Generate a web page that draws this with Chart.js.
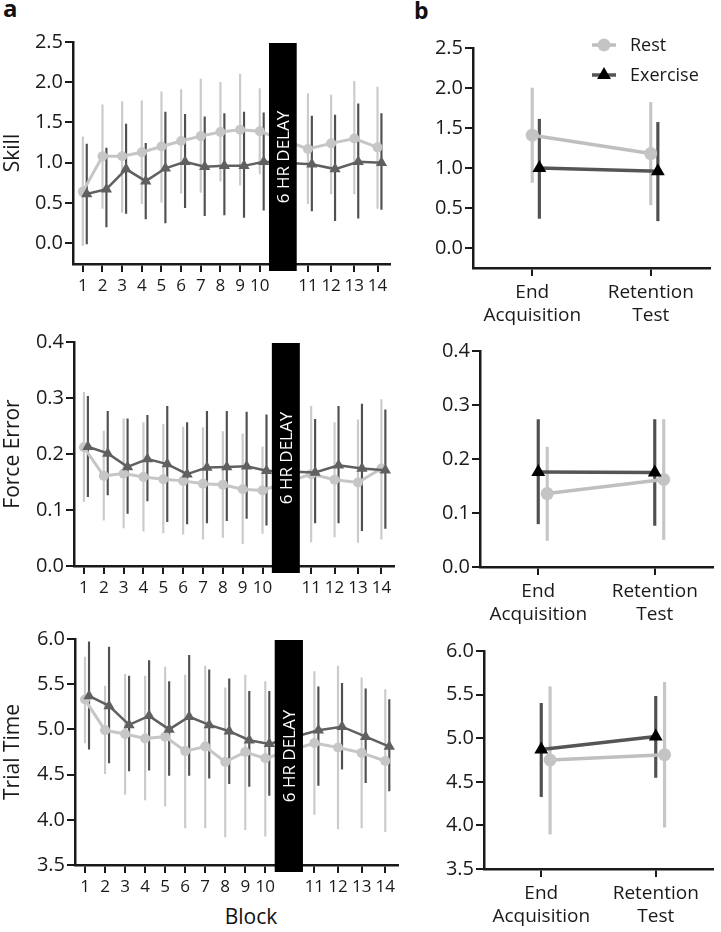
<!DOCTYPE html>
<html>
<head>
<meta charset="utf-8">
<script src="https://cdn.jsdelivr.net/npm/chart.js@4.4.0/dist/chart.umd.min.js"></script>
<style>
  body { margin: 0; background: #fff; width: 721px; height: 932px; position: relative; overflow: hidden; font-family: "Open Sans", sans-serif; }
  canvas { position: absolute; }
  .lbl { position: absolute; color: #111; line-height: 1; white-space: nowrap; }
</style>
</head>
<body>
<div class="lbl" style="left:3px;top:-4px;font-size:24px;font-weight:bold">a</div>
<div class="lbl" style="left:414px;top:-1px;font-size:23px;font-weight:bold">b</div>
<div class="lbl" style="left:201px;top:906px;width:100px;text-align:center;font-size:21px">Block</div>

<canvas id="skillBlocks" width="396" height="320" style="left:0;top:0"></canvas>
<canvas id="forceBlocks" width="400" height="300" style="left:0;top:320px"></canvas>
<canvas id="timeBlocks" width="404" height="312" style="left:0;top:620px"></canvas>
<canvas id="skillPhase" width="321" height="340" style="left:400px;top:0"></canvas>
<canvas id="forcePhase" width="321" height="300" style="left:400px;top:330px"></canvas>
<canvas id="timePhase" width="321" height="302" style="left:400px;top:630px"></canvas>

<script>
// ---- data ----
const blocks = [1, 2, 3, 4, 5, 6, 7, 8, 9, 10, 11, 12, 13, 14];

const skillRest   = [0.64, 1.08, 1.08, 1.13, 1.20, 1.27, 1.33, 1.38, 1.41, 1.39, 1.17, 1.24, 1.30, 1.19];
const skillRestLo = [-0.03, 0.43, 0.38, 0.49, 0.51, 0.62, 0.63, 0.77, 0.72, 0.86, 0.49, 0.61, 0.61, 0.43];
const skillRestHi = [1.32, 1.72, 1.76, 1.77, 1.88, 1.91, 2.04, 2.00, 2.10, 1.92, 1.86, 1.84, 2.01, 1.94];
const skillEx     = [0.61, 0.67, 0.92, 0.77, 0.93, 1.01, 0.95, 0.96, 0.96, 1.01, 0.98, 0.92, 1.01, 1.00];
const skillExLo   = [-0.01, 0.20, 0.37, 0.30, 0.25, 0.44, 0.34, 0.35, 0.32, 0.41, 0.40, 0.28, 0.31, 0.42];
const skillExHi   = [1.23, 1.18, 1.48, 1.24, 1.63, 1.60, 1.57, 1.61, 1.63, 1.62, 1.58, 1.59, 1.73, 1.61];

const forceRest   = [0.212, 0.161, 0.165, 0.159, 0.155, 0.152, 0.147, 0.145, 0.137, 0.135, 0.164, 0.154, 0.149, 0.174];
const forceRestLo = [0.115, 0.082, 0.068, 0.062, 0.059, 0.057, 0.048, 0.051, 0.040, 0.058, 0.043, 0.052, 0.042, 0.048];
const forceRestHi = [0.310, 0.241, 0.263, 0.256, 0.253, 0.248, 0.247, 0.240, 0.236, 0.213, 0.285, 0.256, 0.261, 0.297];
const forceEx     = [0.213, 0.201, 0.177, 0.191, 0.182, 0.164, 0.176, 0.177, 0.178, 0.170, 0.167, 0.180, 0.174, 0.171];
const forceExLo   = [0.124, 0.127, 0.094, 0.116, 0.079, 0.075, 0.077, 0.081, 0.085, 0.073, 0.077, 0.077, 0.063, 0.067];
const forceExHi   = [0.303, 0.276, 0.263, 0.269, 0.285, 0.256, 0.276, 0.276, 0.275, 0.270, 0.262, 0.285, 0.289, 0.279];

const timeRest   = [5.33, 4.99, 4.95, 4.90, 4.92, 4.76, 4.81, 4.64, 4.75, 4.68, 4.85, 4.80, 4.74, 4.65];
const timeRestLo = [4.85, 4.51, 4.28, 4.22, 4.15, 3.91, 3.91, 3.81, 3.89, 3.82, 4.06, 3.90, 3.91, 3.87];
const timeRestHi = [5.80, 5.48, 5.61, 5.59, 5.69, 5.60, 5.70, 5.46, 5.60, 5.53, 5.64, 5.70, 5.57, 5.44];
const timeEx     = [5.37, 5.26, 5.05, 5.15, 5.00, 5.14, 5.05, 4.98, 4.88, 4.84, 4.99, 5.03, 4.92, 4.81];
const timeExLo   = [4.78, 4.63, 4.54, 4.55, 4.49, 4.49, 4.46, 4.40, 4.37, 4.27, 4.38, 4.56, 4.41, 4.32];
const timeExHi   = [5.97, 5.91, 5.59, 5.76, 5.53, 5.82, 5.66, 5.56, 5.42, 5.42, 5.47, 5.51, 5.45, 5.33];

const phaseLabels = [['End', 'Acquisition'], ['Retention', 'Test']];
const phasePos = [0, 1];

const skillPhaseRest   = [1.41, 1.18];
const skillPhaseRestLo = [0.82, 0.54];
const skillPhaseRestHi = [2.00, 1.82];
const skillPhaseEx     = [1.00, 0.96];
const skillPhaseExLo   = [0.37, 0.34];
const skillPhaseExHi   = [1.61, 1.57];

const forcePhaseRest   = [0.136, 0.162];
const forcePhaseRestLo = [0.049, 0.051];
const forcePhaseRestHi = [0.222, 0.273];
const forcePhaseEx     = [0.176, 0.175];
const forcePhaseExLo   = [0.080, 0.077];
const forcePhaseExHi   = [0.273, 0.273];

const timePhaseRest   = [4.75, 4.81];
const timePhaseRestLo = [3.90, 3.98];
const timePhaseRestHi = [5.59, 5.64];
const timePhaseEx     = [4.87, 5.02];
const timePhaseExLo   = [4.33, 4.55];
const timePhaseExHi   = [5.40, 5.48];

const skillTicks = [0, 0.5, 1, 1.5, 2, 2.5];
const forceTicks = [0, 0.1, 0.2, 0.3, 0.4];
const timeTicks  = [3.5, 4, 4.5, 5, 5.5, 6];

// blocks after the 6 hr delay sit on a slightly wider grid, after a gap
const POST_START = 12.45, POST_STEP = 1.18;
const DELAY_FROM = 10.47, DELAY_TO = 11.88;
function blockPos(b) { return b <= 10 ? b : POST_START + (b - 11) * POST_STEP; }

const FONT = '"Open Sans", sans-serif';
const INK = '#1a1a1a';

const restBlock = { line: '#c6c6c6', lw: 3, marker: 'circle', r: 5, fill: '#c6c6c6', bar: '#cbcbcb', bw: 1.5, order: 1 };
const exBlock   = { line: '#606060', lw: 2.5, marker: 'triangle', r: 6.5, fill: '#606060', bar: '#505050', bw: 1.5, order: 0 };
const restPhase = { line: '#bfbfbf', lw: 3.5, marker: 'circle', r: 6.5, fill: '#c4c4c4', bar: '#c6c6c6', bw: 2.5, order: 1 };
const exPhase   = { line: '#555555', lw: 3.5, marker: 'triangle', r: 8, fill: '#000000', bar: '#505050', bw: 2.5, order: 0 };

function seriesSets(label, xs, mean, lo, hi, st) {
  return [
    {
      type: 'line', label: label,
      data: xs.map((x, i) => ({ x: x, y: mean[i] })),
      borderColor: st.line, borderWidth: st.lw, tension: 0,
      pointStyle: st.marker, pointRadius: st.r,
      pointBackgroundColor: st.fill, pointBorderColor: st.fill, pointBorderWidth: 0,
      order: st.order
    },
    {
      type: 'bar', label: label + ' sd',
      data: xs.map((x, i) => ({ x: x, y: [lo[i], hi[i]] })),
      backgroundColor: st.bar, borderWidth: 0, barThickness: st.bw, grouped: false,
      order: st.order + 2
    }
  ];
}

const delayBar = {
  id: 'delayBar',
  afterDatasetsDraw(chart) {
    const { ctx, chartArea, scales: { x } } = chart;
    const x0 = x.getPixelForValue(DELAY_FROM), x1 = x.getPixelForValue(DELAY_TO);
    const top = chartArea.top + 1, bottom = chartArea.bottom + 7;
    ctx.save();
    ctx.fillStyle = '#000';
    ctx.fillRect(x0, top, x1 - x0, bottom - top);
    ctx.translate((x0 + x1) / 2, (top + bottom) / 2);
    ctx.rotate(-Math.PI / 2);
    ctx.fillStyle = '#fff';
    ctx.font = '17px ' + FONT;
    ctx.textAlign = 'center';
    ctx.textBaseline = 'middle';
    ctx.fillText('6 HR DELAY', 0, 1);
    ctx.restore();
  }
};

const phaseLegend = {
  id: 'phaseLegend',
  afterDraw(chart) {
    const { ctx, chartArea } = chart;
    const items = [
      { text: 'Rest', st: restPhase },
      { text: 'Exercise', st: exPhase }
    ];
    ctx.save();
    items.forEach((it, i) => {
      const x = chartArea.left + 119, y = chartArea.top - 3 + i * 30;
      ctx.strokeStyle = it.st.line;
      ctx.lineWidth = 3.5;
      ctx.beginPath(); ctx.moveTo(x, y); ctx.lineTo(x + 24, y); ctx.stroke();
      ctx.fillStyle = it.st.fill;
      ctx.beginPath();
      if (it.st.marker === 'circle') {
        ctx.arc(x + 12, y, 6.5, 0, Math.PI * 2);
      } else {
        const r = 8;
        ctx.moveTo(x + 12, y - r);
        ctx.lineTo(x + 12 + r * 0.866, y + r / 2);
        ctx.lineTo(x + 12 - r * 0.866, y + r / 2);
        ctx.closePath();
      }
      ctx.fill();
      ctx.fillStyle = INK;
      ctx.font = '18px ' + FONT;
      ctx.textBaseline = 'middle';
      ctx.fillText(it.text, x + 38, y + 1);
    });
    ctx.restore();
  }
};

function yAxis(min, max, ticks, title, width) {
  return {
    type: 'linear', min: min, max: max,
    afterBuildTicks: s => { s.ticks = ticks.map(v => ({ value: v })); },
    afterFit: s => { s.width = width; },
    ticks: { color: INK, font: { family: FONT, size: 20 }, padding: 2, callback: v => v.toFixed(1) },
    grid: { drawOnChartArea: false, tickLength: 8, color: INK, lineWidth: 2 },
    border: { color: INK, width: 2.5 },
    title: { display: !!title, text: title, color: INK, font: { family: FONT, size: 21 }, padding: { top: 0, bottom: 0 } }
  };
}

function xAxis(min, max, positions, labels, size, pad, height) {
  return {
    type: 'linear', min: min, max: max, offset: false,
    afterBuildTicks: s => { s.ticks = positions.map(v => ({ value: v })); },
    afterFit: s => { s.height = height; },
    ticks: { color: INK, font: { family: FONT, size: size }, padding: pad, autoSkip: false, maxRotation: 0,
             callback: (v, i) => labels[i] },
    grid: { drawOnChartArea: false, offset: false, tickLength: 8, color: INK, lineWidth: 2 },
    border: { color: INK, width: 2.5 }
  };
}

function blockChart(id, title, yMin, yMax, yTicks, rest, restLo, restHi, ex, exLo, exHi, box) {
  const el = document.getElementById(id);
  if (!el) return;
  const xs = blocks.map(blockPos);
  const xsEx = xs.map(x => x + 0.2);
  new Chart(el.getContext('2d'), {
    type: 'line',
    data: {
      datasets: [
        ...seriesSets('Exercise', xsEx, ex, exLo, exHi, exBlock),
        ...seriesSets('Rest', xs, rest, restLo, restHi, restBlock)
      ]
    },
    options: {
      responsive: false, animation: false, events: [],
      layout: { padding: { top: box.top, right: box.right, left: 0, bottom: 0 } },
      plugins: { legend: { display: false }, tooltip: { enabled: false } },
      scales: {
        x: xAxis(0.5, 16.6, xs, blocks, 17, 4, box.xh),
        y: yAxis(yMin, yMax, yTicks, title, box.yw)
      }
    },
    plugins: [delayBar]
  });
}

function phaseChart(id, yMin, yMax, yTicks, rest, restLo, restHi, ex, exLo, exHi, box, withLegend) {
  const el = document.getElementById(id);
  if (!el) return;
  const xsRest = phasePos.map(p => p + box.restShift);
  const xsEx = phasePos.map(p => p + box.exShift);
  new Chart(el.getContext('2d'), {
    type: 'line',
    data: {
      datasets: [
        ...seriesSets('Exercise', xsEx, ex, exLo, exHi, exPhase),
        ...seriesSets('Rest', xsRest, rest, restLo, restHi, restPhase)
      ]
    },
    options: {
      responsive: false, animation: false, events: [],
      layout: { padding: { top: box.top, right: box.right, left: 0, bottom: 0 } },
      plugins: { legend: { display: false }, tooltip: { enabled: false } },
      scales: {
        x: xAxis(-0.5, 1.5, phasePos, phaseLabels, 19, 5, box.xh),
        y: yAxis(yMin, yMax, yTicks, '', box.yw)
      }
    },
    plugins: withLegend ? [phaseLegend] : []
  });
}

// ---- panel a ----
blockChart('skillBlocks', 'Skill', -0.26, 2.5, skillTicks,
  skillRest, skillRestLo, skillRestHi, skillEx, skillExLo, skillExHi,
  { top: 42, right: 4, yw: 73, xh: 56 });
blockChart('forceBlocks', 'Force Error', 0, 0.4, forceTicks,
  forceRest, forceRestLo, forceRestHi, forceEx, forceExLo, forceExHi,
  { top: 22, right: 4, yw: 74, xh: 54 });
blockChart('timeBlocks', 'Trial Time', 3.5, 6.0, timeTicks,
  timeRest, timeRestLo, timeRestHi, timeEx, timeExLo, timeExHi,
  { top: 19, right: 4, yw: 75, xh: 67 });

// ---- panel b ----
phaseChart('skillPhase', -0.25, 2.5, skillTicks,
  skillPhaseRest, skillPhaseRestLo, skillPhaseRestHi, skillPhaseEx, skillPhaseExLo, skillPhaseExHi,
  { top: 48, right: 11, yw: 73, xh: 72, restShift: 0, exShift: 0.06 }, true);
phaseChart('forcePhase', 0, 0.4, forceTicks,
  forcePhaseRest, forcePhaseRestLo, forcePhaseRestHi, forcePhaseEx, forcePhaseExLo, forcePhaseExHi,
  { top: 21, right: 8, yw: 80, xh: 63, restShift: 0.077, exShift: 0 }, false);
phaseChart('timePhase', 3.5, 6.0, timeTicks,
  timePhaseRest, timePhaseRestLo, timePhaseRestHi, timePhaseEx, timePhaseExLo, timePhaseExHi,
  { top: 21, right: 5, yw: 84, xh: 63, restShift: 0.077, exShift: 0 }, false);
</script>
</body>
</html>
